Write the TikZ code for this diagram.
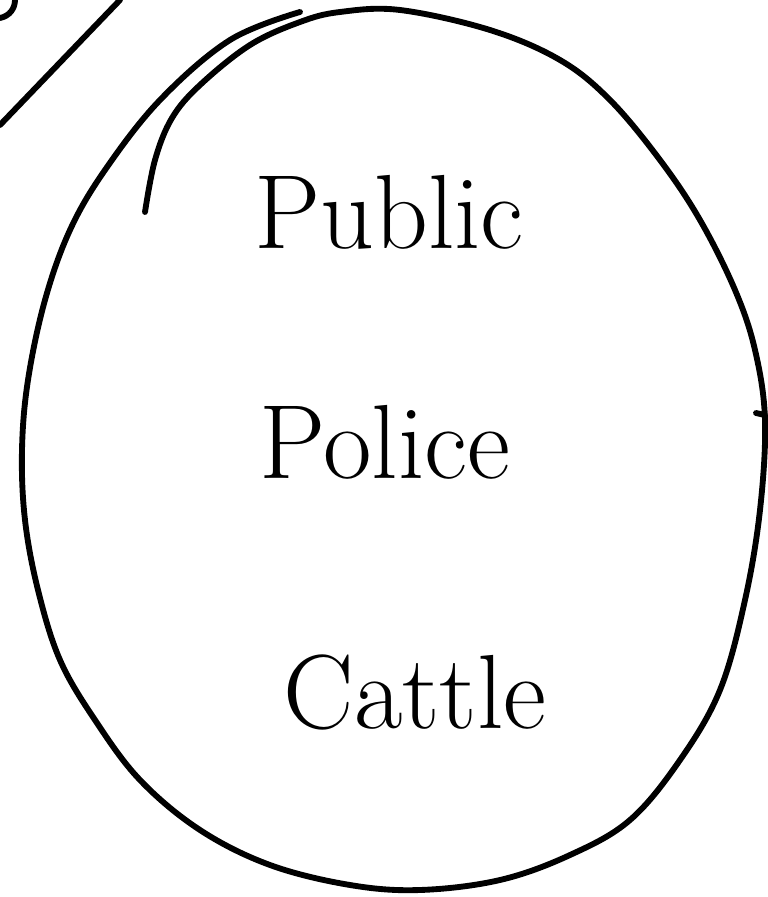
\documentclass[tikz,border=0pt]{standalone}
\usepackage{xcolor}
\usepackage{tikz}
\definecolor{ink}{RGB}{0, 0, 0}
\tikzset{
  pen/.style={ink, line width=5pt, line cap=round, line join=round},
  word/.style={font=\fontsize{90}{100}\selectfont, inner sep=0pt}
}

\begin{document}
\begin{tikzpicture}[x=0.03cm,y=-0.03cm]
\useasboundingbox (0,0) rectangle (768,897);
\draw[pen] plot[smooth,tension=0.6] coordinates {(300,12) (230,40) (160,100) (105,170) (70,230) (45,300) (28,380) (22,450) (25,520) (38,590) (60,660) (95,720) (140,780) (200,830) (270,865) (350,885) (420,890) (500,880) (570,855) (630,820) (680,760) (720,690) (745,600) (760,510) (765,420) (755,350) (735,290) (700,220) (660,160) (610,100) (560,60) (490,30) (400,10) (340,12) (300,22) (250,45) (200,85) (172,118) (155,160) (145,212)};
\draw[pen] (0,125) -- (120,0);
\draw[pen] (0,18) .. controls (10,16) and (15,8) .. (15,0);
\draw[pen] (756,413) -- (765,415);
\node[word] (public) at (389,212) {Public};
\node[word] (police) at (385,442) {Police};
\node[word] (cattle) at (415,692) {Cattle};
\end{tikzpicture}
\end{document}
